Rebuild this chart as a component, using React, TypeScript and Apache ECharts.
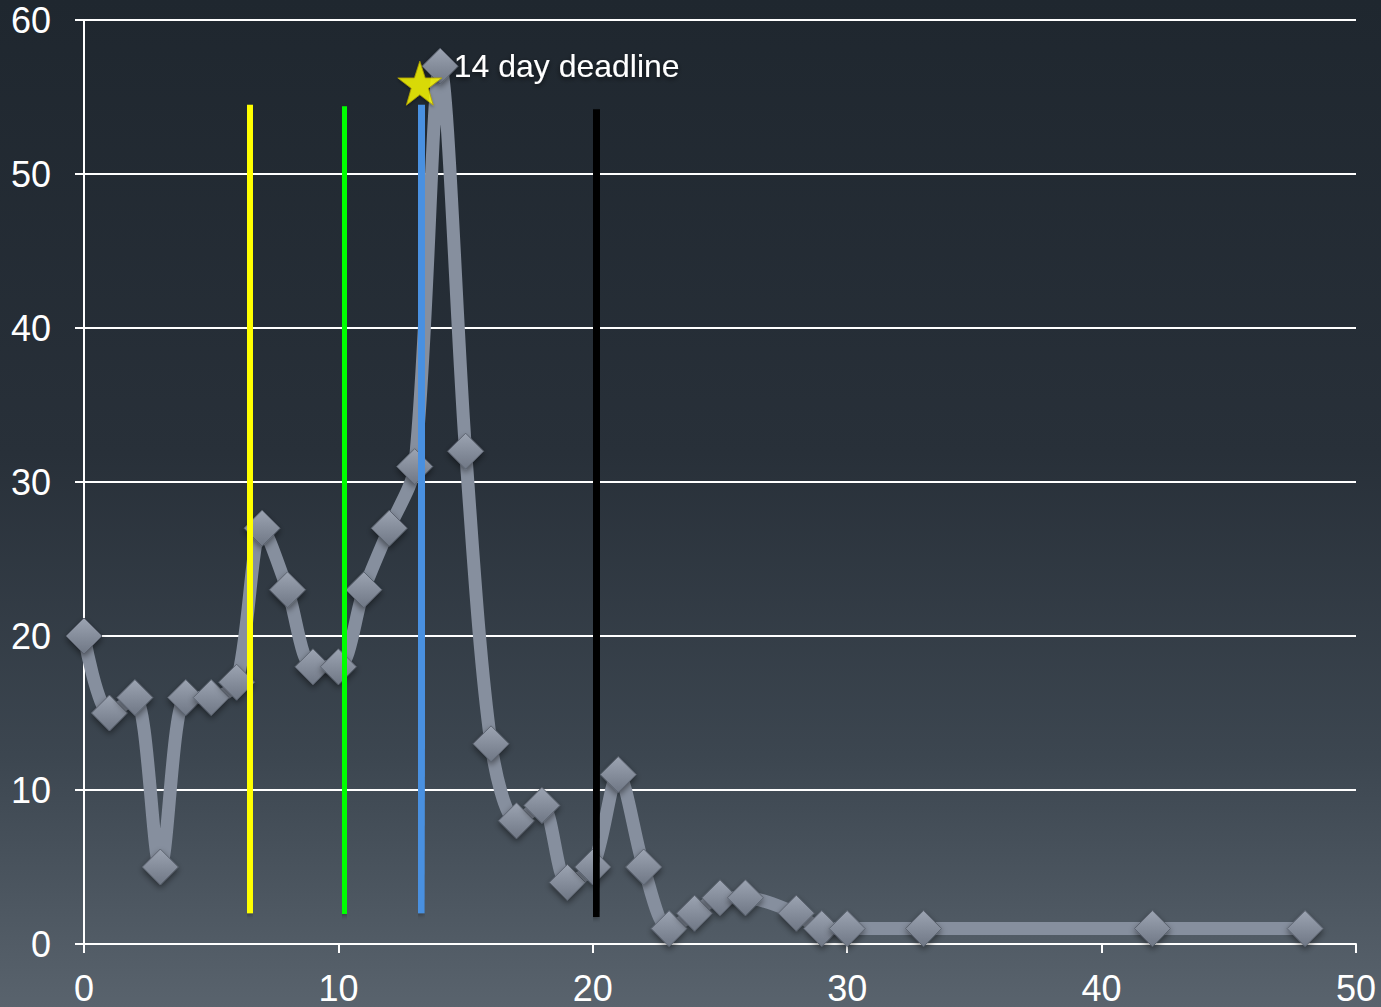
import React, { useEffect, useRef } from "react";
import * as echarts from "echarts";

const days = [0, 1, 2, 3, 4, 5, 6, 7, 8, 9, 10, 11, 12, 13, 14, 15, 16, 17, 18, 19, 20, 21, 22, 23, 24, 25, 26, 28, 29, 30, 33, 42, 48];
const counts = [20, 15, 16, 5, 16, 16, 17, 27, 23, 18, 18, 23, 27, 31, 57, 32, 13, 8, 9, 4, 5, 11, 5, 1, 2, 3, 3, 2, 1, 1, 1, 1, 1];

const markerNames = ["yellow", "green", "blue", "black"];
const markerColors = ["#ffff00", "#00ff00", "#4a90e0", "#000000"];
const markerX = [[6.56, 6.49], [10.26, 10.22], [13.29, 13.21], [20.17, 20.09]];
const markerY = [[54.5, 2.0], [54.4, 1.95], [54.5, 2.0], [54.2, 1.75]];

const starPoint = [13.2, 55.9];
const starLabel = "14 day deadline";
const labelDay = 14;

const xTicks = [0, 10, 20, 30, 40, 50];
const yTicks = [0, 10, 20, 30, 40, 50, 60];

const STAR = "path://M50,0 L61.8,35.1 L98.1,35.1 L68.7,56.8 L79.4,91.9 L50,70.2 L20.6,91.9 L31.3,56.8 L1.9,35.1 L38.2,35.1 Z";
const FONT = "Liberation Sans, Arial, sans-serif";

export default function App() {
  const ref = useRef<HTMLDivElement>(null);
  useEffect(() => {
    if (!ref.current) return;
    const chart = echarts.init(ref.current, null, { renderer: "svg" });
    const markerSeries = markerNames.map((n, i) => ({
      name: n,
      type: "line",
      z: 5,
      symbol: "none",
      silent: true,
      lineStyle: { color: markerColors[i], width: 9, cap: "butt", shadowColor: "rgba(0,0,0,0.3)", shadowBlur: 4, shadowOffsetY: 2 },
      data: [
        [markerX[i][0], markerY[i][0]],
        [markerX[i][1], markerY[i][1]],
      ],
    }));
    const lineData = days.map((d, i) => {
      if (d === labelDay) {
        return {
          value: [d, counts[i]],
          label: {
            show: true,
            position: "right",
            offset: [-10, 0],
            formatter: starLabel,
            color: "#ffffff",
            fontSize: 32,
            fontFamily: FONT,
            textShadowColor: "rgba(0,0,0,0.6)",
            textShadowBlur: 5,
            textShadowOffsetY: 2,
          },
        };
      }
      return [d, counts[i]];
    });
    chart.setOption({
      animation: false,
      backgroundColor: {
        type: "linear",
        x: 0, y: 0, x2: 0, y2: 1,
        colorStops: [
          { offset: 0, color: "#1f272f" },
          { offset: 0.45, color: "#283039" },
          { offset: 0.75, color: "#3c4650" },
          { offset: 1, color: "#59636d" },
        ],
      },
      grid: { left: 84, right: 25, top: 20, bottom: 63, containLabel: false },
      xAxis: {
        type: "value",
        min: 0,
        max: 50,
        interval: 10,
        axisLine: { show: true, lineStyle: { color: "#ffffff", width: 2 } },
        axisTick: { show: true, length: 9, lineStyle: { color: "#ffffff", width: 2 } },
        axisLabel: { color: "#ffffff", fontSize: 36, fontFamily: FONT, margin: 26, formatter: (v: number) => (xTicks.includes(v) ? String(v) : "") },
        splitLine: { show: false },
      },
      yAxis: {
        type: "value",
        min: 0,
        max: 60,
        interval: 10,
        axisLine: { show: true, lineStyle: { color: "#ffffff", width: 2 } },
        axisTick: { show: true, length: 9, lineStyle: { color: "#ffffff", width: 2 } },
        axisLabel: { color: "#ffffff", fontSize: 36, fontFamily: FONT, margin: 33, formatter: (v: number) => (yTicks.includes(v) ? String(v) : "") },
        splitLine: { show: true, lineStyle: { color: "#ffffff", width: 2 } },
      },
      series: [
        {
          name: "cases",
          type: "line",
          smooth: 0.3,
          z: 3,
          symbol: "diamond",
          symbolSize: 36,
          itemStyle: {
            color: {
              type: "linear", x: 0, y: 0, x2: 0, y2: 1,
              colorStops: [
                { offset: 0, color: "#9ca4b2" },
                { offset: 1, color: "#6f7785" },
              ],
            },
            borderColor: "#5a616d",
            borderWidth: 1,
            shadowColor: "rgba(0,0,0,0.45)",
            shadowBlur: 6,
            shadowOffsetY: 3,
          },
          lineStyle: { color: "#868f9e", width: 13 },
          data: lineData,
        },
        ...markerSeries,
        {
          name: "deadline",
          type: "scatter",
          z: 6,
          symbol: STAR,
          symbolSize: 44,
          itemStyle: {
            color: "#ffff00",
            borderColor: "#b0a000",
            borderWidth: 1,
            shadowColor: "rgba(0,0,0,0.35)",
            shadowBlur: 3,
            shadowOffsetY: 2,
          },
          data: [starPoint],
        },
      ],
    });
    return () => chart.dispose();
  }, []);
  return <div ref={ref} style={{ position: "fixed", left: 0, top: 0, width: 1381, height: 1007 }} />;
}
